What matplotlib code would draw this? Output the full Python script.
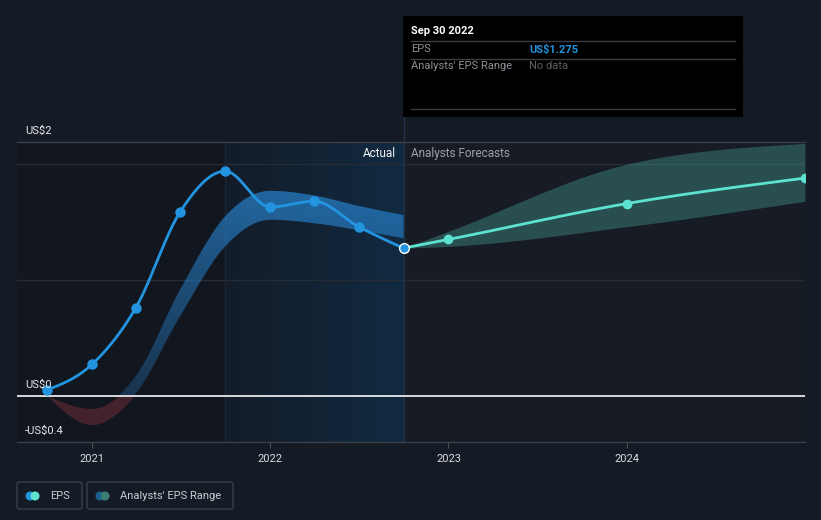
import numpy as np
import pandas as pd
import matplotlib
matplotlib.use("Agg")
import matplotlib.pyplot as plt
from matplotlib.patches import Rectangle, FancyBboxPatch, Ellipse
from matplotlib.transforms import blended_transform_factory, offset_copy

plt.rcParams['font.family'] = ['Roboto', 'DejaVu Sans']

# ---------------- data ----------------
eps_dates = ["2020-09-30", "2020-12-31", "2021-03-31", "2021-06-30", "2021-09-30",
             "2021-12-31", "2022-03-31", "2022-06-30", "2022-09-30"]
eps_values = [0.05, 0.27, 0.76, 1.59, 1.94, 1.63, 1.68, 1.46, 1.275]
hist_range_low = [0.0, -0.25, 0.02, 0.69, 1.29, 1.52, 1.49, 1.43, 1.36]
hist_range_high = [0.0, -0.11, 0.17, 0.92, 1.55, 1.77, 1.73, 1.64, 1.56]

fc_dates = ["2022-09-30", "2022-12-31", "2023-12-31", "2024-12-31"]
fc_values = [1.275, 1.35, 1.66, 1.88]
fc_range_low = [1.275, 1.29, 1.46, 1.68]
fc_range_high = [1.275, 1.42, 2.00, 2.18]

x_ticks = [2021, 2022, 2023, 2024]
x_tick_labels = ["2021", "2022", "2023", "2024"]
y_labels = ["US$2", "US$0", "-US$0.4"]


def dec_year(dates):
    d = pd.to_datetime(pd.Series(dates))
    days = np.where(d.dt.is_leap_year, 366, 365)
    return (d.dt.year + d.dt.dayofyear / days).to_numpy(dtype=float)


def monotone(x, y, n=60):
    """d3 curveMonotoneX style smoothing for drawing."""
    x = np.asarray(x, float); y = np.asarray(y, float)
    h = np.diff(x); s = np.diff(y) / h
    m = np.zeros_like(y)
    for i in range(1, len(y) - 1):
        s0, s1, h0, h1 = s[i - 1], s[i], h[i - 1], h[i]
        p = (s0 * h1 + s1 * h0) / (h0 + h1)
        m[i] = (np.sign(s0) + np.sign(s1)) * min(abs(s0), abs(s1), 0.5 * abs(p))
    m[0] = (3 * s[0] - m[1]) / 2 if len(y) > 2 else s[0]
    m[-1] = (3 * s[-1] - m[-2]) / 2 if len(y) > 2 else s[-1]
    xs, ys = [], []
    for i in range(len(h)):
        t = np.linspace(0, 1, n, endpoint=(i == len(h) - 1))
        h00 = 2 * t**3 - 3 * t**2 + 1
        h10 = t**3 - 2 * t**2 + t
        h01 = -2 * t**3 + 3 * t**2
        h11 = t**3 - t**2
        xs.append(x[i] + t * h[i])
        ys.append(h00 * y[i] + h10 * h[i] * m[i] + h01 * y[i + 1] + h11 * h[i] * m[i + 1])
    return np.concatenate(xs), np.concatenate(ys)


ex = dec_year(eps_dates)
fx = dec_year(fc_dates)

# ---------------- figure ----------------
W, H = 821, 520
fig = plt.figure(figsize=(W / 100, H / 100), dpi=100)
fig.patch.set_facecolor("#151b25")
ax = fig.add_axes([17 / W, 78 / H, 788 / W, 300 / H])
ax.set_facecolor("#171b24")

x0, x1 = 2020.58, 2025.0
ylo = -0.4
yhi = ylo + 300 / 115.75
ax.set_xlim(x0, x1)
ax.set_ylim(ylo, yhi)

# shaded regions
ax.axvspan(x0, ex[4], color="#12161f", zorder=0, lw=0)
grad = np.zeros((2, 256, 4))
c0 = np.array([0x14, 0x1c, 0x29]) / 255
c1 = np.array([0x11, 0x2a, 0x41]) / 255
for k in range(256):
    f = k / 255
    grad[:, k, :3] = c0 * (1 - f) + c1 * f
    grad[:, k, 3] = 1
ax.imshow(grad, extent=[ex[4], ex[-1], ylo, yhi], aspect="auto", zorder=0.5,
          interpolation="bilinear")

# grid lines
for gy in [1, 2]:
    ax.axhline(gy, color="#262c36", lw=1, zorder=1)
ax.axhline(0, color="#e6e8eb", lw=1.3, zorder=3)
ax.axvline(ex[4], color="#1c2634", lw=1, zorder=1)

# historical analyst range band with vertical gradient, red below zero
hx, hl = monotone(ex, hist_range_low)
_, hh = monotone(ex, hist_range_high)
pos_poly = ax.fill_between(hx, np.maximum(hl, 0), np.maximum(hh, 0), color="none", lw=0)
ny = 300
gb = np.zeros((ny, 2, 4))
yy = np.linspace(ylo, yhi, ny)
base = np.array([0x2a, 0x8c, 0xdc]) / 255
gb[:, :, :3] = base
alpha = np.clip(0.26 + 0.22 * yy, 0.2, 0.68)
gb[:, :, 3] = alpha[:, None]
im = ax.imshow(gb, extent=[ex[0], ex[-1], ylo, yhi], origin="lower", aspect="auto",
               zorder=2, interpolation="bilinear")
im.set_clip_path(pos_poly.get_paths()[0], transform=ax.transData)
ax.fill_between(hx, np.minimum(hl, 0), np.minimum(hh, 0), color="#c9434d", alpha=0.27, lw=0, zorder=2)

# forecast range band
fxx, fl = monotone(fx, fc_range_low)
_, fh = monotone(fx, fc_range_high)
ax.fill_between(fxx, fl, fh, color="#5ce1d0", alpha=0.26, lw=0, zorder=2)

# EPS lines
sx, sy = monotone(ex, eps_values)
ax.plot(sx, sy, color="#2394df", lw=2.0, zorder=4, solid_capstyle="round")
ax.plot(ex[:-1], eps_values[:-1], "o", color="#2394df", ms=6.5, zorder=5)
fsx, fsy = monotone(fx, fc_values)
ax.plot(fsx, fsy, color="#5de2d1", lw=2.0, zorder=4, solid_capstyle="round")
ax.plot(fx[1:], fc_values[1:], "o", color="#5de2d1", ms=6, zorder=5)
ax.plot([ex[-1]], [eps_values[-1]], "o", color="#2394df", mec="white", mew=1.0, ms=7, zorder=6)

# hover line up to tooltip
ax.plot([ex[-1], ex[-1]], [ylo, yhi + 25 / 115.75], color="#1f3347", lw=1, zorder=1, clip_on=False)

# spines & ticks
for s in ["left", "right"]:
    ax.spines[s].set_visible(False)
ax.spines["top"].set_color("#3a3f48")
ax.spines["bottom"].set_color("#3a3f48")
ax.spines["top"].set_linewidth(1)
ax.spines["bottom"].set_linewidth(1)
ax.set_yticks([])
ax.set_xticks(x_ticks)
ax.set_xticklabels(x_tick_labels, color="#d8dbe0", fontsize=8)
ax.tick_params(axis="x", length=4, color="#4a4f58", pad=5)

# y labels (above their lines)
bt = blended_transform_factory(ax.transAxes, ax.transData)
for lab, yv in zip(y_labels, [yhi, 0, ylo]):
    ax.text(8 / 788, yv, lab, transform=offset_copy(bt, fig=fig, y=4, units="points"),
            color="#e6e8eb", fontsize=8, va="bottom", ha="left", zorder=7)

# Actual / Analysts Forecasts
ax.text(ex[-1] - 8 / 178.7, 2.09, "Actual", color="#f0f2f4", fontsize=8.5, ha="right", va="center", zorder=7)
ax.text(ex[-1] + 8 / 178.7, 2.09, "Analysts Forecasts", color="#9ca1a9", fontsize=8.5, ha="left", va="center", zorder=7)

# tooltip
def fx_(px): return px / W
def fy_(py): return 1 - py / H

fig.patches.append(Rectangle((fx_(403), fy_(117)), 340 / W, 101 / H, transform=fig.transFigure,
                             facecolor="black", edgecolor="none", zorder=10))
fig.text(fx_(411), fy_(31), "Sep 30 2022", color="white", fontsize=8, fontweight="bold", va="center", zorder=11)
for ly in [41.5, 58.5, 109]:
    fig.lines.append(plt.Line2D([fx_(411), fx_(735)], [fy_(ly), fy_(ly)], transform=fig.transFigure,
                                color="#3a3d42", lw=1, zorder=11))
fig.text(fx_(411), fy_(49.5), "EPS", color="#8c9096", fontsize=8, va="center", zorder=11)
fig.text(fx_(529), fy_(49.5), "US$1.275", color="#2394df", fontsize=8, fontweight="bold", va="center", zorder=11)
fig.text(fx_(411), fy_(66), "Analysts' EPS Range", color="#8c9096", fontsize=8, va="center", zorder=11)
fig.text(fx_(529), fy_(66), "No data", color="#5c6066", fontsize=8, va="center", zorder=11)

# legend
def legbox(xl, xr, label, c1, c2):
    fig.patches.append(FancyBboxPatch((fx_(xl), fy_(509)), (xr - xl) / W, 27 / H,
                                      boxstyle="round,pad=0,rounding_size=0.004",
                                      transform=fig.transFigure, facecolor="none",
                                      edgecolor="#3a3f48", lw=1, zorder=10))
    cy = 496
    r = 4.5
    fig.patches.append(Ellipse((fx_(xl + 18), fy_(cy)), 2 * r / W, 2 * r / H, transform=fig.transFigure,
                               facecolor=c2, edgecolor="none", zorder=12))
    fig.patches.append(Ellipse((fx_(xl + 13), fy_(cy)), 2 * r / W, 2 * r / H,
                               transform=fig.transFigure, facecolor=c1,
                               edgecolor="none", zorder=11))
    fig.text(fx_(xl + 33), fy_(cy), label, color="#c8ccd2", fontsize=8, va="center", zorder=12)

legbox(17, 82, "EPS", "#2394df", "#5de2d1")
legbox(87, 233, "Analysts' EPS Range", "#1f5d8c", "#3a7d75")

fig.savefig("out.png", dpi=100, facecolor=fig.get_facecolor())
